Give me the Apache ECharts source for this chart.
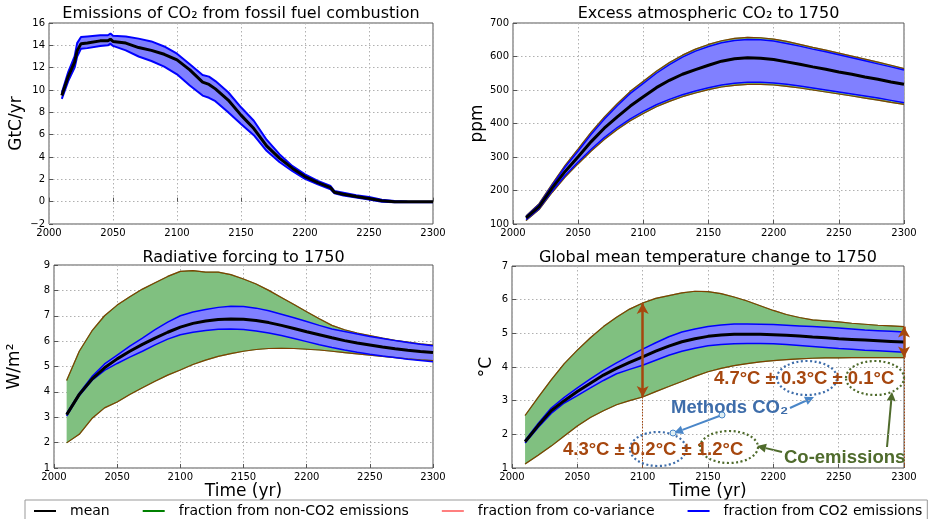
<!DOCTYPE html>
<html><head><meta charset="utf-8">
<script src="https://cdn.jsdelivr.net/npm/echarts@6/dist/echarts.min.js"></script>
<style>html,body{margin:0;padding:0;background:#fff}#c{width:928px;height:519px}</style>
</head><body><div id="c"></div>
<script>
// ---------- DATA ----------
const p1Years = [2010,2015,2020,2022,2025,2030,2040,2046,2048,2050,2060,2070,2080,2090,2100,2110,2120,2125,2130,2140,2150,2160,2170,2180,2190,2200,2210,2220,2223,2230,2240,2250,2260,2270,2280,2290,2300];
const p1Mean  = [9.5,11.2,12.5,13.5,14.15,14.2,14.4,14.4,14.55,14.35,14.2,13.8,13.55,13.2,12.7,11.8,10.7,10.5,10.1,9.1,7.75,6.55,5.0,3.9,3.0,2.25,1.7,1.25,0.85,0.67,0.46,0.29,0.08,0.0,0.0,0.0,0.0];
const p1Upper = [9.75,11.6,13.0,14.2,14.75,14.8,14.9,14.9,15.05,14.85,14.8,14.6,14.35,13.9,13.25,12.3,11.35,11.2,10.8,9.8,8.45,7.25,5.55,4.25,3.2,2.45,1.85,1.4,0.95,0.8,0.58,0.42,0.18,0.05,0.02,0.0,0.0];
const p1Lower = [9.2,10.8,12.0,13.0,13.7,13.75,13.95,14.0,14.15,13.95,13.55,13.0,12.6,12.1,11.4,10.4,9.5,9.3,9.0,8.0,6.95,5.95,4.55,3.55,2.75,2.05,1.55,1.1,0.75,0.55,0.38,0.2,0.0,-0.05,-0.05,-0.05,-0.05];

const years = [2010,2020,2030,2040,2050,2060,2070,2080,2090,2100,2110,2120,2130,2140,2150,2160,2170,2180,2190,2200,2210,2220,2230,2240,2250,2260,2270,2280,2290,2300];

const p2Mean    = [118,152,207,257,301,346,386,420,452,480,507,529,547,561,574,586,593,596,595,591,584,577,569,562,554,547,539,532,524,517];
const p2BlueUp  = [122,158,215,270,318,368,413,453,490,520,550,576,598,616,630,641,648,651,650,646,639,631,622,614,605,596,587,578,569,560];
const p2BlueLo  = [113,146,198,245,285,323,358,388,414,436,456,472,486,497,507,515,520,523,523,521,517,512,506,500,494,488,482,476,469,462];
const p2GreenUp = [124,161,219,275,324,374,419,459,496,526,556,582,604,622,636,647,654,657,656,652,645,636,627,619,610,601,592,583,574,564];
const p2GreenLo = [110,143,194,240,280,318,352,382,408,430,450,466,480,491,501,509,514,517,517,515,511,506,500,494,488,482,476,470,463,457];

const p3GreenUp = [4.45,5.6,6.4,7.0,7.42,7.75,8.05,8.3,8.55,8.75,8.78,8.72,8.72,8.62,8.45,8.25,8.0,7.72,7.44,7.16,6.88,6.62,6.45,6.32,6.22,6.12,6.03,5.96,5.89,5.84];
const p3BlueUp  = [3.15,3.95,4.6,5.1,5.45,5.8,6.12,6.45,6.75,7.0,7.15,7.25,7.33,7.37,7.36,7.3,7.2,7.06,6.92,6.77,6.62,6.48,6.38,6.28,6.18,6.1,6.02,5.95,5.88,5.82];
const p3Mean    = [3.1,3.9,4.5,4.95,5.3,5.6,5.87,6.12,6.35,6.55,6.7,6.79,6.85,6.87,6.86,6.81,6.73,6.62,6.5,6.37,6.25,6.13,6.02,5.93,5.85,5.77,5.7,5.64,5.59,5.55];
const p3BlueLo  = [3.05,3.85,4.45,4.85,5.12,5.37,5.6,5.85,6.08,6.25,6.35,6.42,6.47,6.48,6.46,6.4,6.32,6.22,6.1,5.98,5.86,5.75,5.65,5.56,5.48,5.41,5.35,5.29,5.24,5.19];
const p3GreenLo = [1.99,2.33,2.95,3.37,3.6,3.9,4.16,4.42,4.66,4.86,5.08,5.25,5.4,5.51,5.6,5.67,5.71,5.72,5.71,5.68,5.65,5.6,5.55,5.5,5.45,5.4,5.35,5.3,5.26,5.23];

const p4GreenUp = [2.56,3.1,3.62,4.1,4.5,4.87,5.2,5.48,5.72,5.9,6.04,6.12,6.2,6.25,6.24,6.18,6.08,5.96,5.82,5.68,5.56,5.47,5.4,5.37,5.34,5.3,5.27,5.24,5.22,5.2];
const p4BlueUp  = [1.82,2.32,2.78,3.1,3.38,3.65,3.9,4.12,4.33,4.53,4.72,4.9,5.04,5.13,5.2,5.25,5.28,5.28,5.27,5.26,5.24,5.22,5.2,5.18,5.16,5.13,5.1,5.08,5.06,5.04];
const p4Mean    = [1.78,2.26,2.7,3.0,3.27,3.52,3.76,3.96,4.14,4.3,4.47,4.62,4.75,4.84,4.91,4.95,4.97,4.97,4.97,4.96,4.94,4.92,4.89,4.87,4.84,4.82,4.8,4.78,4.76,4.74];
const p4BlueLo  = [1.74,2.2,2.62,2.93,3.15,3.38,3.6,3.8,3.93,4.05,4.2,4.35,4.47,4.56,4.63,4.67,4.69,4.7,4.7,4.69,4.67,4.64,4.61,4.58,4.55,4.53,4.5,4.48,4.46,4.44];
const p4GreenLo = [1.12,1.38,1.65,1.95,2.25,2.5,2.7,2.88,3.0,3.11,3.27,3.42,3.57,3.72,3.86,3.96,4.04,4.1,4.15,4.19,4.22,4.24,4.26,4.27,4.27,4.28,4.28,4.28,4.28,4.28];

const titles = ['Emissions of CO\u2082 from fossil fuel combustion','Excess atmospheric CO\u2082 to 1750','Radiative forcing to 1750','Global mean temperature change to 1750'];
const yNames = ['GtC/yr','ppm','W/m\u00B2','\u00B0C'];
const yRanges = [[-2,16,2],[100,700,100],[1,9,1],[1,7,1]];
const legendNames = ['mean','fraction from non-CO2 emissions','fraction from co-variance','fraction from CO2 emissions'];
const arrowYears = [2100, 2300];

// ---------- STYLE ----------
const FONT = '"DejaVu Sans", sans-serif';
const C_MEAN = '#000000', C_GREEN = '#008000', C_RED = 'rgba(255,0,0,0.5)', C_BLUE = '#0000ff';
const F_GREEN = '#80c080', F_BLUE = '#8080ff';
const BROWN = '#a6470f';

const grids = [
  {left:49, top:23, width:384, height:201},
  {left:513, top:23, width:391, height:201},
  {left:54, top:265, width:379, height:203},
  {left:512, top:266, width:392, height:202}
];
const yNameGaps = [24, 25, 31, 17];
const titleY = [6, 6, 250, 250];

function pairs(xs, ys){ return xs.map((x,i)=>[x, ys[i]]); }

function fill(gi, xs, lo, hi, color){
  return {type:'custom', name:'_fill', xAxisIndex:gi, yAxisIndex:gi, silent:true, animation:false,
    data: xs.map((x,i)=>[x, lo[i], hi[i]]), encode:{x:0, y:[1,2]},
    renderItem:(params, api)=>{
      if (params.dataIndex !== 0) return null;
      const top = xs.map((x,i)=>api.coord([x, hi[i]]));
      const bot = xs.map((x,i)=>api.coord([x, lo[i]]));
      return {type:'polygon', shape:{points: top.concat(bot.reverse())}, style:{fill:color, stroke:null}};
    }};
}
function line(gi, name, xs, ys, color, width, extra){
  return Object.assign({type:'line', name, xAxisIndex:gi, yAxisIndex:gi, symbol:'none', data:pairs(xs, ys),
    lineStyle:{color, width}, itemStyle:{color}, silent:true, animation:false}, extra||{});
}
function band(gi, name, xs, lo, hi, color, width, fcolor){
  return [fill(gi, xs, lo, hi, fcolor), line(gi, name, xs, lo, color, width), line(gi, name, xs, hi, color, width)];
}

const series = [];
// panel 1
series.push(...band(0, legendNames[3], p1Years, p1Lower, p1Upper, C_BLUE, 2, F_BLUE));
series.push(line(0, legendNames[0], p1Years, p1Mean, C_MEAN, 3));
// panel 2
series.push(...band(1, legendNames[1], years, p2GreenLo, p2GreenUp, C_GREEN, 1.2, F_GREEN));
series.push(line(1, legendNames[2], years, p2GreenLo, C_RED, 1.2));
series.push(line(1, legendNames[2], years, p2GreenUp, C_RED, 1.2));
series.push(...band(1, legendNames[3], years, p2BlueLo, p2BlueUp, C_BLUE, 1.5, F_BLUE));
series.push(line(1, legendNames[0], years, p2Mean, C_MEAN, 3));
// panel 3
series.push(...band(2, legendNames[1], years, p3GreenLo, p3GreenUp, C_GREEN, 1.2, F_GREEN));
series.push(line(2, legendNames[2], years, p3GreenLo, C_RED, 1.2));
series.push(line(2, legendNames[2], years, p3GreenUp, C_RED, 1.2));
series.push(...band(2, legendNames[3], years, p3BlueLo, p3BlueUp, C_BLUE, 1.5, F_BLUE));
series.push(line(2, legendNames[0], years, p3Mean, C_MEAN, 3));
// panel 4
series.push(...band(3, legendNames[1], years, p4GreenLo, p4GreenUp, C_GREEN, 1.2, F_GREEN));
series.push(line(3, legendNames[2], years, p4GreenLo, C_RED, 1.2));
series.push(line(3, legendNames[2], years, p4GreenUp, C_RED, 1.2));
series.push(...band(3, legendNames[3], years, p4BlueLo, p4BlueUp, C_BLUE, 1.5, F_BLUE));
const i1 = years.indexOf(arrowYears[0]), i2 = years.indexOf(arrowYears[1]);
series.push(line(3, legendNames[0], years, p4Mean, C_MEAN, 3, {
  markLine:{silent:true, animation:false, symbol:['arrow','arrow'], symbolSize:[9,11], label:{show:false},
    lineStyle:{color:BROWN, width:2.5, type:'solid'},
    data:[
      [{coord:[arrowYears[0], p4GreenUp[i1]]},{coord:[arrowYears[0], p4GreenLo[i1]]}],
      [{coord:[arrowYears[1], p4GreenUp[i2]]},{coord:[arrowYears[1], p4GreenLo[i2]]}]
    ]}
}));
series.push({type:'line', name:'_guide', xAxisIndex:3, yAxisIndex:3, data:[], silent:true, animation:false,
  markLine:{silent:true, animation:false, symbol:['none','none'], label:{show:false},
    lineStyle:{color:BROWN, width:1, type:[1.5,1.5]},
    data:[
      [{coord:[arrowYears[0], p4GreenLo[i1]]},{coord:[arrowYears[0], yRanges[3][0]]}],
      [{coord:[arrowYears[1], p4GreenLo[i2]]},{coord:[arrowYears[1], yRanges[3][0]]}]
    ]}});

const axisLabel = {color:'#000', fontFamily:FONT, fontSize:10};
const splitLine = {show:true, lineStyle:{color:'#b0b0b0', type:[1.5,2.5], width:1}};
const xAxis = grids.map((g,i)=>({type:'value', gridIndex:i, min:2000, max:2300, interval:50,
  axisLine:{show:false}, axisTick:{show:true, inside:true, length:4, lineStyle:{color:'#555'}},
  axisLabel:Object.assign({margin:4, showMinLabel:true, showMaxLabel:true, formatter:v=>String(v)}, axisLabel), splitLine,
  name: i>=2 ? 'Time (yr)' : '', nameLocation:'middle', nameGap:14,
  nameTextStyle:{color:'#000', fontFamily:FONT, fontSize:17, verticalAlign:'top'}}));
const yAxis = grids.map((g,i)=>({type:'value', gridIndex:i, min:yRanges[i][0], max:yRanges[i][1], interval:yRanges[i][2],
  axisLine:{show:false}, axisTick:{show:true, inside:true, length:4, lineStyle:{color:'#555'}},
  axisLabel:Object.assign({margin:4, formatter:v=>String(v).replace('-', '\u2212')}, axisLabel), splitLine,
  name:yNames[i], nameLocation:'middle', nameGap:yNameGaps[i], nameRotate:90,
  nameTextStyle:{color:'#000', fontFamily:FONT, fontSize:17}}));

const title = titles.map((t,i)=>({text:t, left:grids[i].left + grids[i].width/2, top:titleY[i], textAlign:'center', padding:0,
  textStyle:{color:'#000', fontFamily:FONT, fontSize:16, fontWeight:'normal'}}));

// annotation graphics (panel 4)
const A_BLUE = '#3e6daa', A_GREEN = '#4f6b2c', A_LBLUE = '#4a86c8';
function arrowG(x1,y1,x2,y2,color,w){
  const a = Math.atan2(y2-y1, x2-x1), L = 9, H = 4.5;
  const bx = x2 - L*Math.cos(a), by = y2 - L*Math.sin(a);
  return {type:'group', silent:true, children:[
    {type:'line', shape:{x1,y1,x2:bx,y2:by}, style:{stroke:color, lineWidth:w}},
    {type:'polygon', shape:{points:[[x2,y2],[bx + H*Math.sin(a), by - H*Math.cos(a)],[bx - H*Math.sin(a), by + H*Math.cos(a)]]}, style:{fill:color}}
  ]};
}
function ell(cx,cy,rx,ry,color){
  return {type:'ellipse', silent:true, shape:{cx,cy,rx,ry}, style:{fill:null, stroke:color, lineWidth:2.2, lineDash:[2,2.5]}, z:100};
}
function txt(x,y,t,color){
  return {type:'text', silent:true, x, y, z:101, style:{text:t, fill:color, font:'bold 18.5px "Liberation Sans", Arial, sans-serif', textVerticalAlign:'middle', verticalAlign:'middle'}};
}
const graphic = [
  txt(714, 379, '4.7\u00B0C \u00B1 0.3\u00B0C \u00B1 0.1\u00B0C', BROWN),
  txt(563, 450, '4.3\u00B0C \u00B1 0.2\u00B0C \u00B1 1.2\u00B0C', BROWN),
  txt(671, 408, 'Methods CO\u2082', A_BLUE),
  txt(784, 458, 'Co-emissions', A_GREEN),
  ell(807, 378, 30, 17, A_BLUE),
  ell(875, 378, 29, 17, A_GREEN),
  ell(658, 449, 28, 17, A_BLUE),
  ell(729, 447, 29, 16, A_GREEN),
  arrowG(790, 408, 814, 397, A_LBLUE, 2),
  arrowG(722, 415, 674, 433, A_LBLUE, 2),
  {type:'circle', silent:true, shape:{cx:722, cy:415, r:3}, style:{fill:'#dfeef2', stroke:A_LBLUE, lineWidth:1}, z:102},
  {type:'circle', silent:true, shape:{cx:673, cy:433, r:3}, style:{fill:'#dfeef2', stroke:A_LBLUE, lineWidth:1}, z:102},
  arrowG(782, 452, 757, 446, A_GREEN, 2),
  arrowG(887, 447, 892, 392, A_GREEN, 2)
];

const option = {
  backgroundColor:'#fff',
  animation:false,
  textStyle:{fontFamily:FONT},
  title,
  grid: grids.map(g=>Object.assign({show:true, borderColor:'#555', borderWidth:1, backgroundColor:'transparent', containLabel:false}, g)),
  xAxis, yAxis,
  legend:{data:legendNames, left:25, top:500, padding:[4,5,6,8], itemGap:32, itemWidth:22, itemHeight:10,
    borderColor:'#999', borderWidth:1, selectedMode:false, itemStyle:{opacity:0},
    textStyle:{color:'#000', fontFamily:FONT, fontSize:14, padding:[0,0,0,9]}},
  series,
  graphic
};
const chart = echarts.init(document.getElementById('c'), null, {renderer:'canvas'});
chart.setOption(option);
</script></body></html>
